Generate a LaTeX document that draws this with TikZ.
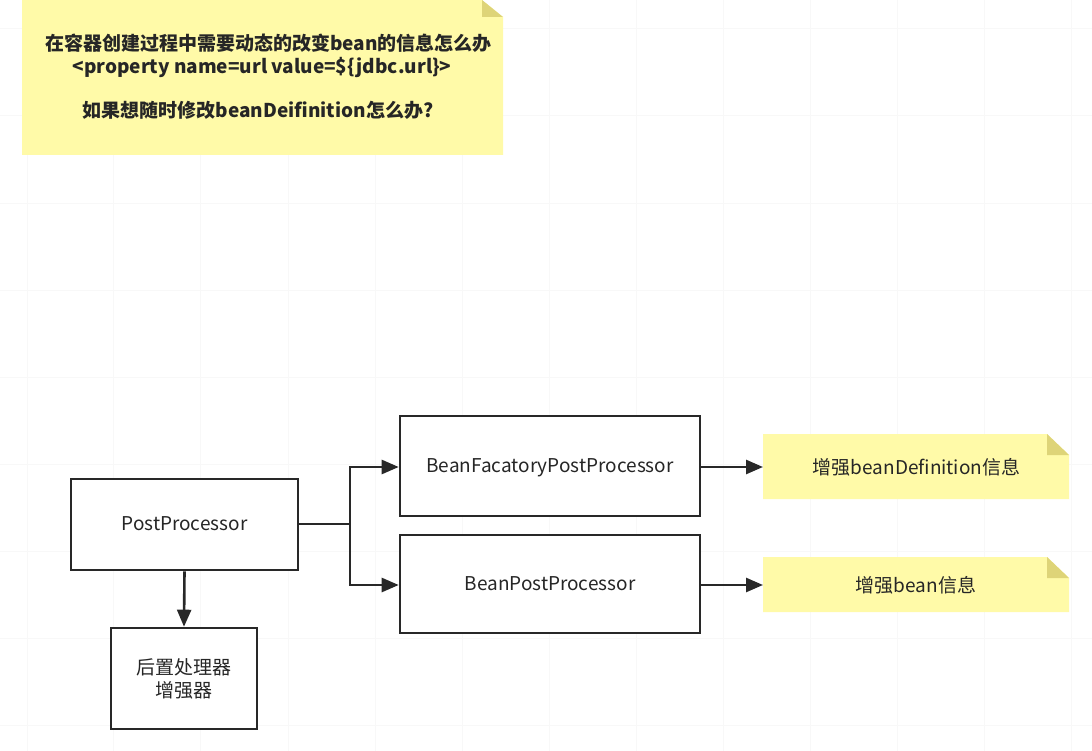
\documentclass[tikz,border=0pt]{standalone}
\usepackage{fontspec}
\setmainfont{Noto Sans CJK SC}
\usetikzlibrary{arrows.meta}
\definecolor{notefill}{RGB}{255,250,168}
\definecolor{notefold}{RGB}{222,212,120}
\definecolor{linec}{RGB}{40,40,40}
\definecolor{gridc}{RGB}{248,248,248}
\tikzset{
  procbox/.style={draw=linec, line width=2.6pt, fill=white, minimum width=#1, inner sep=0pt, align=center, font=\fontsize{19}{23}\selectfont, text=black!85},
  oneline/.style={text height=1.2em, text depth=0pt},
  conn/.style={draw=linec, line width=2.6pt, -{Triangle[length=17pt,width=14pt]}},
  plainconn/.style={draw=linec, line width=2.6pt},
  notetext/.style={font=\fontsize{19}{23}\selectfont, align=center, text=black!85},
  qtext/.style={font=\fontsize{19}{24}\selectfont\bfseries, text=black!85},
}
\begin{document}
\begin{tikzpicture}[x=1pt,y=-1pt]
\useasboundingbox (0,0) rectangle (1092,751);
\fill[white] (0,0) rectangle (1092,751);
% faint grid
\foreach \x in {27,113,200,288,375,462,549,636,723,810,897,984,1071}
  \draw[gridc, line width=0.8pt] (\x,0) -- (\x,751);
\foreach \y in {28,115,203,290,377,464,551,638,725}
  \draw[gridc, line width=0.8pt] (0,\y) -- (1092,\y);
% top note
\fill[notefill] (22,0) -- (482,0) -- (503,17) -- (503,155) -- (22,155) -- cycle;
\fill[notefold] (482,0) -- (482,17) -- (503,17) -- cycle;
\node[qtext] (q1) at (268.5,43.5) {在容器创建过程中需要动态的改变bean的信息怎么办};
\node[qtext] (q2) at (262,67.5) {<property name=url value=\$\{jdbc.url\}>};
\node[qtext] (q3) at (258,110) {如果想随时修改beanDeifinition怎么办?};
% boxes
\node[procbox=227pt, minimum height=91pt, oneline] (pp) at (184.5,524.5) {PostProcessor};
\node[procbox=146pt, minimum height=101pt] (hz) at (184,678.5) {后置处理器\\增强器};
\node[procbox=300pt, minimum height=100pt, oneline] (bfpp) at (550,466) {BeanFacatoryPostProcessor};
\node[procbox=300pt, minimum height=98pt, oneline] (bpp) at (550,584) {BeanPostProcessor};
% notes
\fill[notefill] (763,434) -- (1047,434) -- (1069,455) -- (1069,499) -- (763,499) -- cycle;
\fill[notefold] (1047,434) -- (1047,455) -- (1069,455) -- cycle;
\node[notetext] (n1) at (916.5,467.5) {增强beanDefinition信息};
\fill[notefill] (763,557) -- (1047,557) -- (1069,578) -- (1069,612) -- (763,612) -- cycle;
\fill[notefold] (1047,557) -- (1047,578) -- (1069,578) -- cycle;
\node[notetext] (n2) at (916,585.5) {增强bean信息};
\coordinate (split) at (350,524);
\coordinate (n1w) at (763,467);
\coordinate (n2w) at (763,585);
% connectors
\draw[plainconn] (pp.east |- split) -- (split);
\draw[conn] (split) |- (bfpp.west |- 0,467);
\draw[conn] (split) |- (bpp.west |- 0,585);
\draw[conn] (pp.south) -- (hz.north);
\draw[conn] (bfpp.east |- n1w) -- (n1w);
\draw[conn] (bpp.east |- n2w) -- (n2w);
\end{tikzpicture}
\end{document}
